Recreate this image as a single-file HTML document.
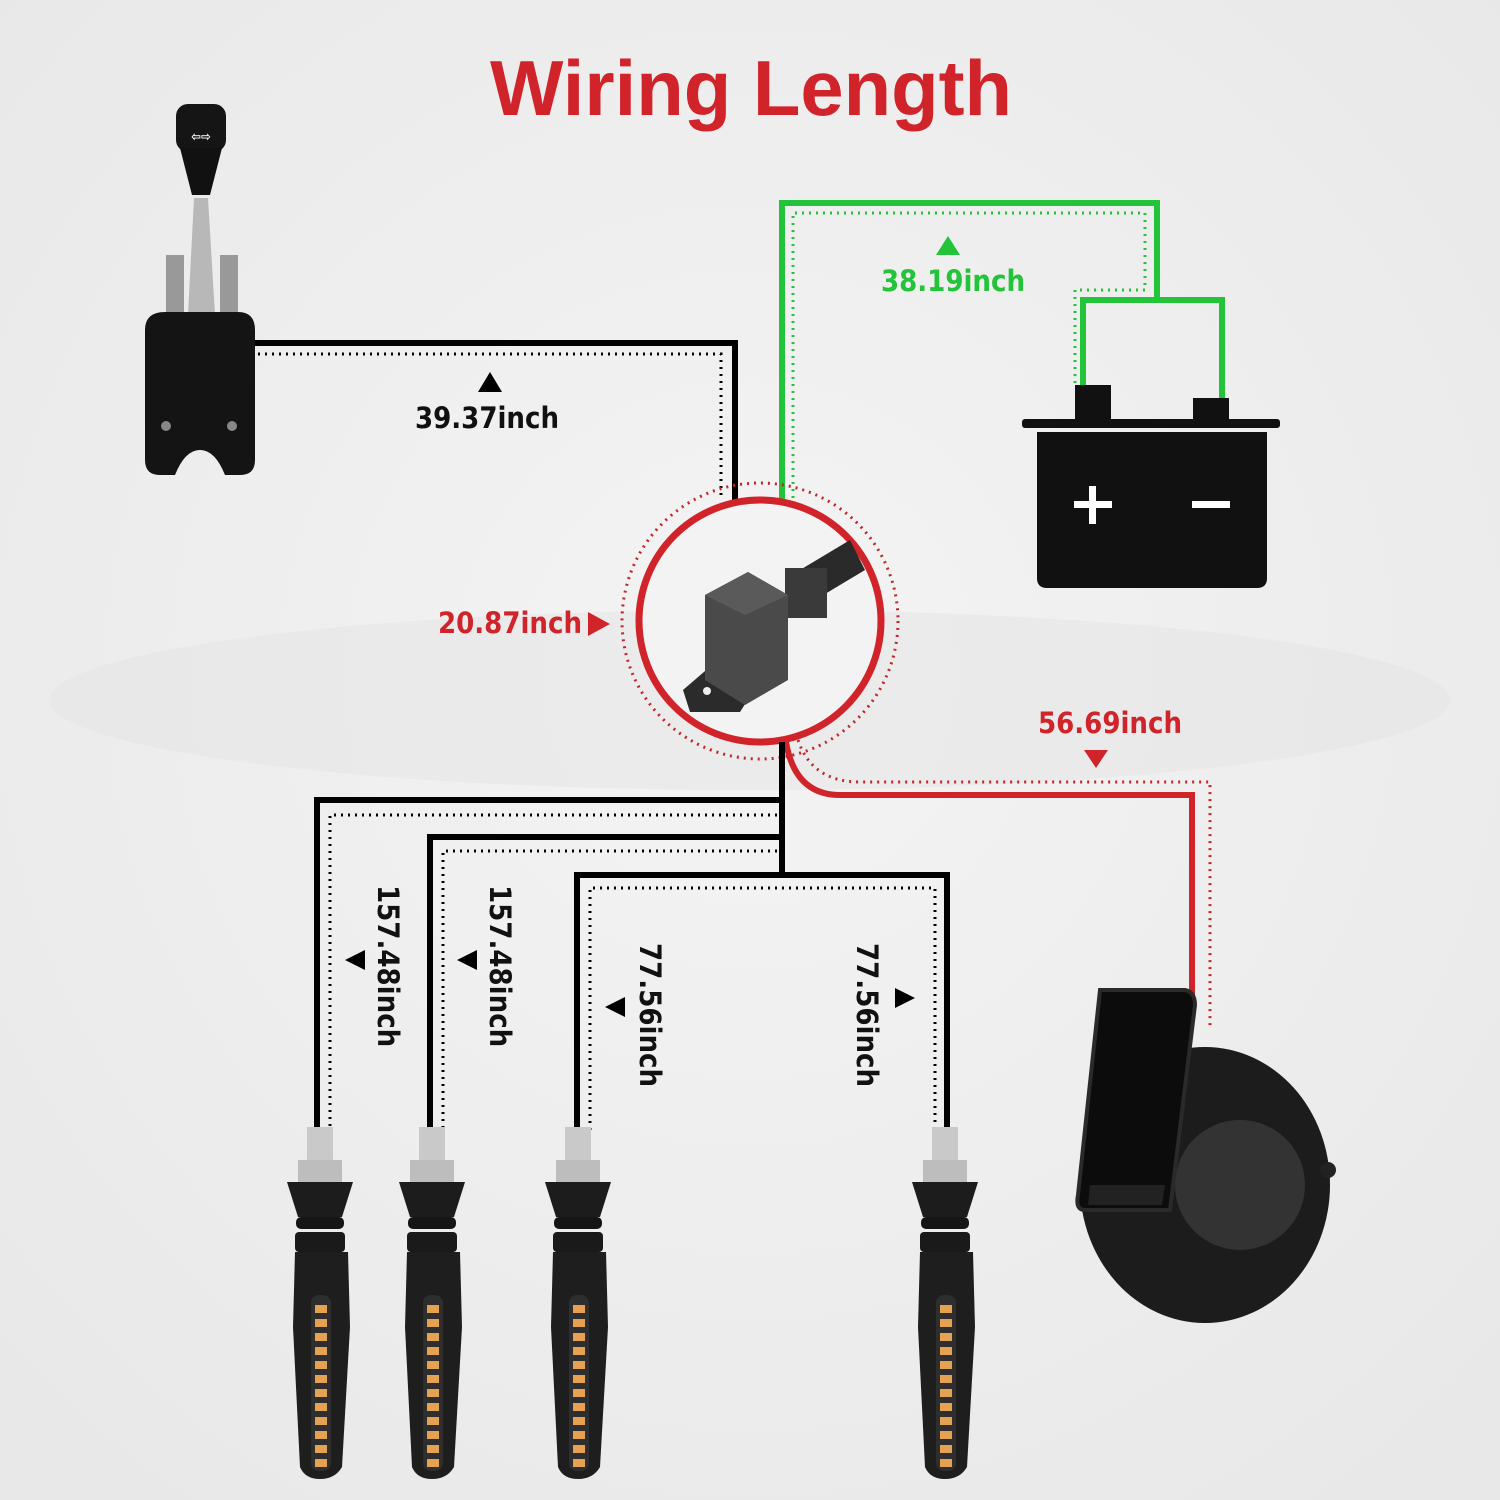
<!DOCTYPE html>
<html><head><meta charset="utf-8"><style>
html,body{margin:0;padding:0;background:#efefef}
svg{display:block}
text{font-family:"DejaVu Sans Condensed","Liberation Sans",sans-serif;font-weight:bold}
</style></head><body>
<svg width="1500" height="1500" viewBox="0 0 1500 1500" xmlns="http://www.w3.org/2000/svg">
<defs>
<radialGradient id="bg" cx="50%" cy="45%" r="70%"><stop offset="0" stop-color="#f4f4f4"/><stop offset="1" stop-color="#e8e8e8"/></radialGradient>
<g id="blink">
 <rect x="-13" y="0" width="26" height="36" fill="#c9c9c9"/>
 <rect x="-22" y="33" width="44" height="22" fill="#bdbdbd"/>
 <path d="M-33 55 L33 55 L22 90 L-22 90 Z" fill="#1c1c1c"/>
 <rect x="-24" y="90" width="48" height="12" rx="5" fill="#151515"/>
 <rect x="-25" y="105" width="50" height="20" rx="4" fill="#1a1a1a"/>
 <path d="M-25 125 L28 125 L30 200 L22 340 Q15 352 0 352 Q-15 352 -20 340 L-27 200 Z" fill="#1e1e1e"/>
 <rect x="-9" y="168" width="20" height="176" rx="8" fill="#2e2e2e"/>
 <g fill="#e6a250">
  <rect x="-5" y="178" width="12" height="8"/><rect x="-5" y="192" width="12" height="8"/><rect x="-5" y="206" width="12" height="8"/><rect x="-5" y="220" width="12" height="8"/><rect x="-5" y="234" width="12" height="8"/><rect x="-5" y="248" width="12" height="8"/><rect x="-5" y="262" width="12" height="8"/><rect x="-5" y="276" width="12" height="8"/><rect x="-5" y="290" width="12" height="8"/><rect x="-5" y="304" width="12" height="8"/><rect x="-5" y="318" width="12" height="8"/><rect x="-5" y="332" width="12" height="8"/>
 </g>
</g>
</defs>
<rect width="1500" height="1500" fill="url(#bg)"/>
<ellipse cx="750" cy="700" rx="700" ry="90" fill="#e3e3e3" opacity="0.5"/>

<text x="751" y="115" text-anchor="middle" font-size="78" fill="#d0242a" style="font-family:'Liberation Sans',sans-serif;font-weight:bold" textLength="522" lengthAdjust="spacingAndGlyphs">Wiring Length</text>

<!-- switch -->
<g>
 <rect x="176" y="104" width="50" height="48" rx="12" fill="#151515"/>
 <path d="M180 148 L222 148 L210 195 L192 195 Z" fill="#111"/>
 <text x="201" y="141" text-anchor="middle" font-size="13" fill="#fff">⇦⇨</text>
 <path d="M194 198 L208 198 L215 315 L188 315 Z" fill="#b8b8b8"/>
 <rect x="166" y="255" width="18" height="60" fill="#999"/>
 <rect x="220" y="255" width="18" height="60" fill="#999"/>
 <path d="M145 330 Q145 312 165 312 L238 312 Q255 312 255 330 L255 460 Q255 475 240 475 L225 475 Q215 450 200 450 Q185 450 175 475 L160 475 Q145 475 145 460 Z" fill="#141414"/>
 <circle cx="166" cy="426" r="5" fill="#888"/><circle cx="232" cy="426" r="5" fill="#888"/>
</g>

<!-- black wire top -->
<path d="M255 343 H735 V502" fill="none" stroke="#000" stroke-width="6"/>
<path d="M258 354 H721 V500" fill="none" stroke="#000" stroke-width="3" stroke-dasharray="2 5"/>
<path d="M478 392 L490 372 L502 392 Z" fill="#000"/>
<text x="487" y="428" text-anchor="middle" font-size="29" fill="#111">39.37inch</text>

<!-- green wire -->
<path d="M782 505 V203 H1157 V300 M1083 385 V300 H1222 V400" fill="none" stroke="#23c33a" stroke-width="6"/>
<path d="M793 505 V213 H1145 V290 H1075 V385" fill="none" stroke="#23c33a" stroke-width="3" stroke-dasharray="2 5"/>
<path d="M936 255 L948 236 L960 255 Z" fill="#23c33a"/>
<text x="953" y="291" text-anchor="middle" font-size="29" fill="#23c33a">38.19inch</text>

<!-- battery -->
<rect x="1075" y="385" width="36" height="37" fill="#111"/>
<rect x="1193" y="398" width="36" height="24" fill="#111"/>
<rect x="1022" y="419" width="258" height="9" rx="3" fill="#111"/>
<path d="M1037 432 H1267 V578 Q1267 588 1257 588 H1047 Q1037 588 1037 578 Z" fill="#111"/>
<rect x="1074" y="501" width="38" height="7" fill="#fff"/><rect x="1089" y="486" width="7" height="38" fill="#fff"/>
<rect x="1192" y="501" width="38" height="7" fill="#fff"/>

<!-- circle relay -->
<circle cx="760" cy="621" r="138" fill="none" stroke="#c0262c" stroke-width="3" stroke-dasharray="2 5"/>
<circle cx="760" cy="621" r="121" fill="#f3f3f3" stroke="#d0242a" stroke-width="7"/>
<path d="M800 570 L850 540 L865 570 L815 600 Z" fill="#2a2a2a"/>
<rect x="785" y="568" width="42" height="50" fill="#3a3a3a"/>
<path d="M683 690 L712 665 L770 665 L740 712 L690 712 Z" fill="#2b2b2b"/>
<circle cx="707" cy="691" r="4" fill="#eee"/>
<path d="M705 595 L748 572 L788 595 L788 680 L745 705 L705 680 Z" fill="#4a4a4a"/>
<path d="M705 595 L748 572 L788 595 L745 615 Z" fill="#5a5a5a"/>
<path d="M588 612 L588 636 L610 624 Z" fill="#d0242a"/>
<text x="510" y="633" text-anchor="middle" font-size="29" fill="#d0242a">20.87inch</text>

<!-- red to horn -->
<path d="M786 742 Q795 795 840 795 H1192 V995" fill="none" stroke="#d0242a" stroke-width="6"/>
<path d="M798 740 Q812 782 860 782 H1210 V1030" fill="none" stroke="#c0262c" stroke-width="3" stroke-dasharray="2 5"/>
<path d="M1084 750 L1108 750 L1096 768 Z" fill="#d0242a"/>
<text x="1110" y="733" text-anchor="middle" font-size="29" fill="#d0242a">56.69inch</text>

<!-- black harness -->
<g fill="none" stroke="#000" stroke-width="6">
 <path d="M782 742 V878"/>
 <path d="M782 800 H317 V1130"/>
 <path d="M782 837 H430 V1130"/>
 <path d="M577 1130 V875 H947 V1130"/>
</g>
<g fill="none" stroke="#000" stroke-width="3" stroke-dasharray="2 5">
 <path d="M777 815 H330 V1130"/>
 <path d="M777 851 H443 V1130"/>
 <path d="M590 1130 V888 H935 V1130"/>
</g>
<path d="M365 950 L365 970 L345 960 Z" fill="#000"/>
<path d="M477 950 L477 970 L457 960 Z" fill="#000"/>
<path d="M625 997 L625 1017 L605 1007 Z" fill="#000"/>
<path d="M895 988 L895 1008 L915 998 Z" fill="#000"/>
<text transform="translate(378,885) rotate(90)" font-size="29" fill="#111">157.48inch</text>
<text transform="translate(490,885) rotate(90)" font-size="29" fill="#111">157.48inch</text>
<text transform="translate(640,943) rotate(90)" font-size="29" fill="#111">77.56inch</text>
<text transform="translate(857,943) rotate(90)" font-size="29" fill="#111">77.56inch</text>

<!-- blinkers -->
<use href="#blink" x="320" y="1127"/>
<use href="#blink" x="432" y="1127"/>
<use href="#blink" x="578" y="1127"/>
<use href="#blink" x="945" y="1127"/>

<!-- horn -->
<ellipse cx="1205" cy="1185" rx="125" ry="138" fill="#1c1c1c"/>
<circle cx="1328" cy="1170" r="8" fill="#222"/>
<circle cx="1240" cy="1185" r="65" fill="#333"/>
<path d="M1100 990 L1185 990 Q1195 992 1195 1005 L1170 1210 L1085 1210 Q1075 1210 1078 1195 Z" fill="#0c0c0c" stroke="#2a2a2a" stroke-width="4"/>
<path d="M1090 1185 L1165 1185 L1162 1205 L1088 1205 Z" fill="#222"/>
</svg>
</body></html>
